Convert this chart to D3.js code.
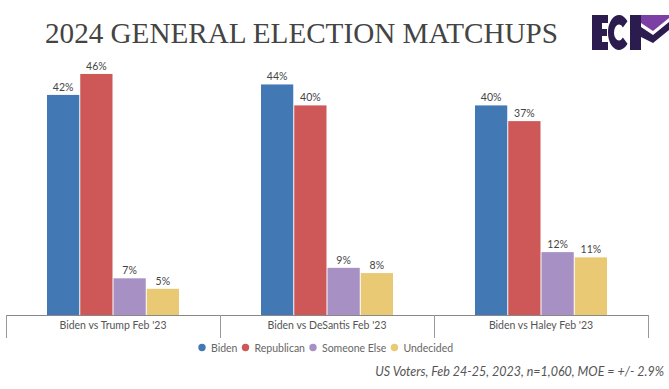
<!DOCTYPE html>
<html><head><meta charset="utf-8">
<script src="https://cdn.jsdelivr.net/npm/d3@7"></script>
<style>body{margin:0;background:#fff}svg{display:block}</style>
</head><body>
<script>
const categories = ["Biden vs Trump Feb '23", "Biden vs DeSantis Feb '23", "Biden vs Haley Feb '23"];
const seriesNames = ["Biden", "Republican", "Someone Else", "Undecided"];
const biden = [42, 44, 40];
const republican = [46, 40, 37];
const someoneElse = [7, 9, 12];
const undecided = [5, 8, 11];
const colors = ["#4279b5", "#cd5857", "#a690c4", "#e9c973"];
const values = [biden, republican, someoneElse, undecided];

const W = 669, H = 389;
const svg = d3.select("body").append("svg").attr("width", W).attr("height", H);

// Title
svg.append("text").attr("x", 45).attr("y", 43)
  .attr("font-family", "Liberation Serif, serif").attr("font-size", 30)
  .attr("fill", "#444").attr("textLength", 513).attr("lengthAdjust", "spacingAndGlyphs")
  .text("2024 GENERAL ELECTION MATCHUPS");

// Logo (ECP mark)
const navy = "#2b1b4e";
const logo = svg.append("g");
logo.append("path").attr("fill", navy)
  .attr("d", "M592,15 H608 V23 H602 V29 H607 V36 H602 V42 H608 V50 H592 Z");
logo.append("g").attr("transform", "translate(619,32.5) scale(0.63,1)")
  .append("path").attr("fill", navy)
  .attr("d", d3.arc().innerRadius(8).outerRadius(17.5).startAngle(Math.PI * 0.72).endAngle(Math.PI * 2.28)());
logo.append("rect").attr("x", 630).attr("y", 15).attr("width", 11).attr("height", 35).attr("fill", navy);
logo.append("path").attr("fill", "#7c3fa3").attr("d", "M641,15 L669,15 L669,18 L653,31 L641,23 Z");
logo.append("path").attr("fill", navy).attr("d", "M641,27 L653,35 L669,22 L669,30 L653,43 L641,37 Z");

// Scales
const x0 = d3.scaleBand().domain(categories).range([6, 648]).paddingInner(0).paddingOuter(0);
const groupW = 132;
const x1 = d3.scaleBand().domain(seriesNames).range([0, groupW]).paddingInner(0.03);
const y = d3.scaleLinear().domain([0, 50]).range([315, 53]);

const g = svg.append("g");
categories.forEach((c, i) => {
  const gx = x0(c) + (x0.bandwidth() - groupW) / 2;
  seriesNames.forEach((s, j) => {
    const v = values[j][i];
    g.append("rect").attr("x", gx + x1(s)).attr("y", y(v))
      .attr("width", x1.bandwidth()).attr("height", y(0) - y(v)).attr("fill", colors[j]);
    g.append("text").attr("x", gx + x1(s) + x1.bandwidth() / 2).attr("y", y(v) - 4)
      .attr("text-anchor", "middle").attr("font-family", "Lato, sans-serif").attr("font-size", 10.5)
      .attr("fill", "#444").text(v + "%");
  });
});

// Axis
const axis = svg.append("g").attr("transform", "translate(0,315)")
  .call(d3.axisBottom(x0).tickSize(0).tickPadding(7));
axis.select(".domain").attr("stroke", "#888").attr("d", "M6,0.5H648");
axis.selectAll("text").attr("font-family", "Lato, sans-serif").attr("font-size", 10.5).attr("fill", "#555");
const bounds = [x0.range()[0]].concat(categories.map(c => x0(c) + x0.bandwidth()));
axis.selectAll(".sep").data(bounds).enter().append("line")
  .attr("x1", d => d + 0.5).attr("x2", d => d + 0.5).attr("y1", 0).attr("y2", 23)
  .attr("stroke", "#999");

// Legend
const legend = svg.append("g").attr("font-family", "Lato, sans-serif").attr("font-size", 10.5).attr("fill", "#666");
let lx = 202;
seriesNames.forEach((s, j) => {
  legend.append("circle").attr("cx", lx).attr("cy", 347.5).attr("r", 3.7).attr("fill", colors[j]);
  const t = legend.append("text").attr("x", lx + 9).attr("y", 351.5).text(s);
  lx += 9 + t.node().getComputedTextLength() + 8;
});

// Footnote
svg.append("text").attr("x", 664).attr("y", 376).attr("text-anchor", "end")
  .attr("font-family", "Lato, sans-serif").attr("font-style", "italic").attr("font-size", 12.5)
  .attr("fill", "#555").text("US Voters, Feb 24-25, 2023, n=1,060, MOE = +/- 2.9%");
</script>
</body></html>
